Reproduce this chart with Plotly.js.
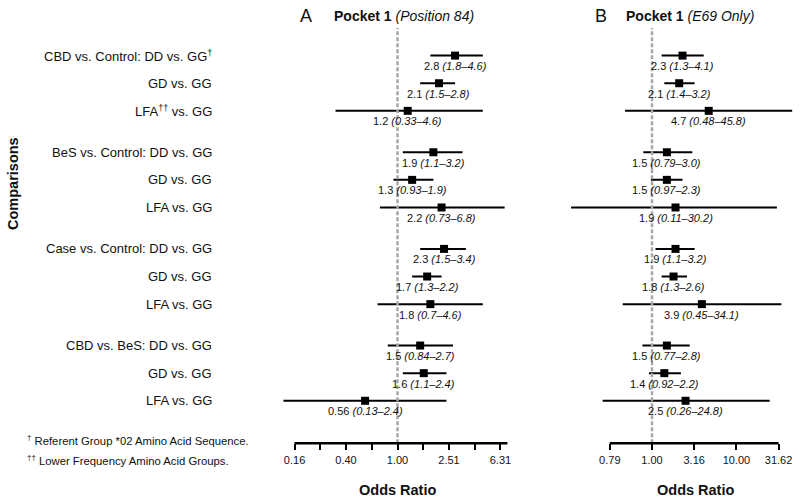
<!DOCTYPE html>
<html>
<head>
<meta charset="utf-8">
<script src="https://cdn.plot.ly/plotly-3.0.1.min.js"></script>
<style>html,body{margin:0;padding:0;background:#fff}#chart{width:800px;height:501px}</style>
</head>
<body>
<div id="chart"></div>
<script>
// Row labels (top to bottom)
const rowLabels = [
  "CBD vs. Control: DD vs. GG<sup>†</sup>", "GD vs. GG", "LFA<sup>††</sup> vs. GG",
  "BeS vs. Control: DD vs. GG", "GD vs. GG", "LFA vs. GG",
  "Case vs. Control: DD vs. GG", "GD vs. GG", "LFA vs. GG",
  "CBD vs. BeS: DD vs. GG", "GD vs. GG", "LFA vs. GG"
];
// Panel A: Pocket 1 (Position 84)
const orA = [2.8, 2.1, 1.2, 1.9, 1.3, 2.2, 2.3, 1.7, 1.8, 1.5, 1.6, 0.56];
const loA = [1.8, 1.5, 0.33, 1.1, 0.93, 0.73, 1.5, 1.3, 0.7, 0.84, 1.1, 0.13];
const hiA = [4.6, 2.8, 4.6, 3.2, 1.9, 6.8, 3.4, 2.2, 4.6, 2.7, 2.4, 2.4];
// Panel B: Pocket 1 (E69 Only)
const orB = [2.3, 2.1, 4.7, 1.5, 1.5, 1.9, 1.9, 1.8, 3.9, 1.5, 1.4, 2.5];
const loB = [1.3, 1.4, 0.48, 0.79, 0.97, 0.11, 1.1, 1.3, 0.45, 0.77, 0.92, 0.26];
const hiB = [4.1, 3.2, 45.8, 3.0, 2.3, 30.2, 3.2, 2.6, 34.1, 2.8, 2.2, 24.8];
// Axis ticks
const tickValsA = [0.1585, 0.3981, 1, 2.512, 6.310];
const tickTextA = ["0.16", "0.40", "1.00", "2.51", "6.31"];
const minorValsA = [0.2512, 0.6310, 1.585, 3.981];
const tickValsB = [0.3162, 1, 3.162, 10, 31.62];
const tickTextB = ["0.79", "1.00", "3.16", "10.00", "31.62"];

const FONT = "Liberation Sans, Arial, Helvetica, sans-serif";
const INK = "#111";

// row positions: 3 rows per group, extra half-row gap between groups
const ypos = rowLabels.map((_, i) => i + 0.5 * Math.floor(i / 3));
const fmt = v => Number.isInteger(v) ? v.toFixed(1) : String(v);

function forestTrace(or, lo, hi, xa) {
  return {
    type: "scatter", mode: "markers", x: or, y: ypos, xaxis: xa, yaxis: "y",
    marker: {symbol: "square", size: 8, color: "#000"},
    error_x: {type: "data", symmetric: false,
      array: or.map((v, i) => hi[i] - v), arrayminus: or.map((v, i) => v - lo[i]),
      width: 0, thickness: 2, color: "#000"},
    hoverinfo: "skip", cliponaxis: false
  };
}

const annotations = [];
rowLabels.forEach((t, i) => annotations.push({
  xref: "paper", yref: "y", x: 214 / 800, y: ypos[i], xanchor: "right", yanchor: "middle",
  text: t, showarrow: false, font: {family: FONT, size: 13, color: INK}
}));
function valueLabels(or, lo, hi, xref) {
  or.forEach((v, i) => annotations.push({
    xref: xref, yref: "y", x: Math.log10(v), y: ypos[i], yshift: -10.5,
    xanchor: "center", yanchor: "middle", showarrow: false,
    text: fmt(v) + " <i>(" + fmt(lo[i]) + "–" + fmt(hi[i]) + ")</i>",
    font: {family: FONT, size: 11, color: INK}
  }));
}
valueLabels(orA, loA, hiA, "x");
valueLabels(orB, loB, hiB, "x2");

const py = p => (501 - p) / 501;
annotations.push(
  {xref: "paper", yref: "paper", x: 306 / 800, y: py(15.5), xanchor: "center", yanchor: "middle",
   text: "A", showarrow: false, font: {family: FONT, size: 18, color: INK}},
  {xref: "paper", yref: "paper", x: 332 / 800, y: py(15.5), xanchor: "left", yanchor: "middle",
   text: "<b>Pocket 1</b> <i>(Position 84)</i>", showarrow: false, font: {family: FONT, size: 14, color: INK}},
  {xref: "paper", yref: "paper", x: 600.5 / 800, y: py(15.5), xanchor: "center", yanchor: "middle",
   text: "B", showarrow: false, font: {family: FONT, size: 18, color: INK}},
  {xref: "paper", yref: "paper", x: 624 / 800, y: py(15.5), xanchor: "left", yanchor: "middle",
   text: "<b>Pocket 1</b> <i>(E69 Only)</i>", showarrow: false, font: {family: FONT, size: 14, color: INK}},
  {xref: "paper", yref: "paper", x: 397.5 / 800, y: py(490), xanchor: "center", yanchor: "middle",
   text: "<b>Odds Ratio</b>", showarrow: false, font: {family: FONT, size: 14.5, color: INK}},
  {xref: "paper", yref: "paper", x: 695.7 / 800, y: py(490), xanchor: "center", yanchor: "middle",
   text: "<b>Odds Ratio</b>", showarrow: false, font: {family: FONT, size: 14.5, color: INK}},
  {xref: "paper", yref: "paper", x: 13 / 800, y: py(184), xanchor: "center", yanchor: "middle",
   text: "<b>Comparisons</b>", textangle: -90, showarrow: false, font: {family: FONT, size: 14.5, color: INK}},
  {xref: "paper", yref: "paper", x: 25 / 800, y: py(440), xanchor: "left", yanchor: "middle",
   text: "<sup>†</sup> Referent Group *02 Amino Acid Sequence.", showarrow: false, font: {family: FONT, size: 11.3, color: INK}},
  {xref: "paper", yref: "paper", x: 25 / 800, y: py(459.5), xanchor: "left", yanchor: "middle",
   text: "<sup>††</sup> Lower Frequency Amino Acid Groups.", showarrow: false, font: {family: FONT, size: 11.3, color: INK}}
);

const shapes = [
  {type: "line", xref: "x", yref: "y domain", x0: 1, x1: 1, y0: 0, y1: 1,
   line: {color: "#a8a8a8", width: 2.5, dash: "4px,2px"}},
  {type: "line", xref: "x2", yref: "y domain", x0: 1, x1: 1, y0: 0, y1: 1,
   line: {color: "#a8a8a8", width: 2.5, dash: "4px,2px"}},
  {type: "line", xref: "x", yref: "y domain", x0: tickValsA[0], x1: 7.15, y0: 0, y1: 0,
   line: {color: "#000", width: 2.5}},
  {type: "line", xref: "x2", yref: "y domain", x0: tickValsB[0], x1: tickValsB[tickValsB.length - 1], y0: 0, y1: 0,
   line: {color: "#000", width: 2.5}}
];

const xCommon = {
  type: "log", anchor: "y", showgrid: false, zeroline: false, showline: false,
  ticks: "outside", ticklen: 6, tickwidth: 2, tickcolor: "#000",
  tickmode: "array", tickfont: {family: FONT, size: 11, color: INK}, fixedrange: true
};

const layout = {
  width: 800, height: 501,
  margin: {l: 0, r: 0, t: 0, b: 0},
  paper_bgcolor: "#fff", plot_bgcolor: "#fff",
  showlegend: false,
  xaxis: Object.assign({}, xCommon, {domain: [275 / 800, 515 / 800], range: [-0.9518, 0.913],
    tickvals: tickValsA, ticktext: tickTextA,
    minor: {tickmode: "array", tickvals: minorValsA, ticks: "outside", ticklen: 6, tickwidth: 2,
      tickcolor: "#000", showgrid: false}}),
  xaxis2: Object.assign({}, xCommon, {domain: [565 / 800, 798 / 800], range: [-1.0308, 1.7299],
    tickvals: tickValsB, ticktext: tickTextB}),
  yaxis: {domain: [py(443.3), py(28)], range: [14.04, -1.0], showgrid: false, zeroline: false,
    showline: false, showticklabels: false, ticks: "", fixedrange: true},
  annotations: annotations,
  shapes: shapes
};

Plotly.newPlot("chart", [forestTrace(orA, loA, hiA, "x"), forestTrace(orB, loB, hiB, "x2")], layout,
  {displayModeBar: false, staticPlot: true});
</script>
</body>
</html>
